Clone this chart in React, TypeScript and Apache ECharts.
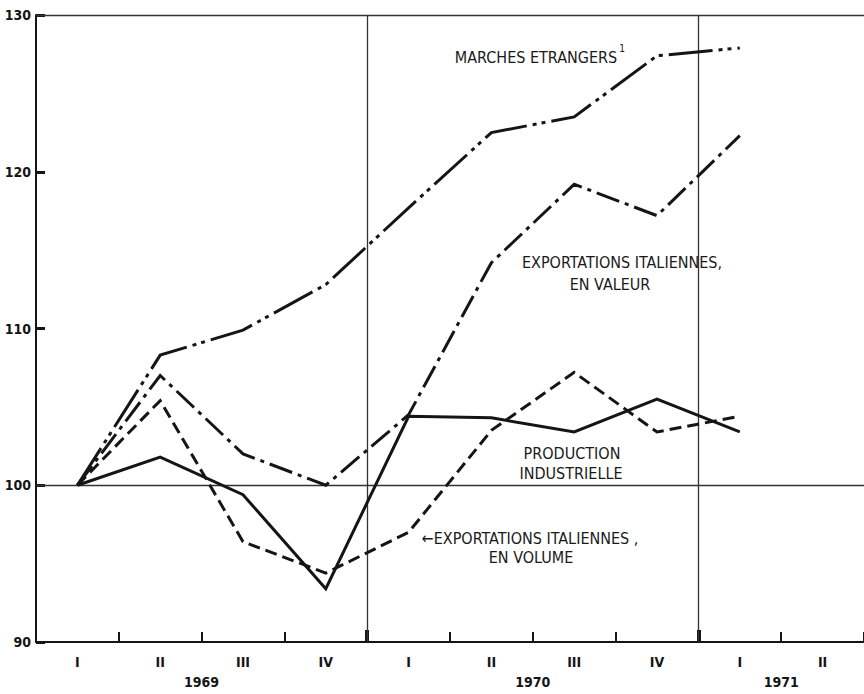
import React, { useEffect, useRef } from "react";
import * as echarts from "echarts";

const quarterLabels = ["I", "II", "III", "IV", "I", "II", "III", "IV", "I", "II"];
const yearLabels = ["1969", "1970", "1971"];
const yearLabelPositions = [2, 6, 9];
const yearBoundaries = [4, 8];

const marchesEtrangers = [100, 108.3, 109.9, 112.8, 117.7, 122.5, 123.5, 127.4, 127.9];
const exportValeur = [100, 107.0, 102.0, 100.0, 104.5, 114.2, 119.2, 117.2, 122.3];
const productionIndustrielle = [100, 101.8, 99.4, 93.4, 104.4, 104.3, 103.4, 105.5, 103.4];
const exportVolume = [100, 105.4, 96.4, 94.4, 97.0, 103.5, 107.2, 103.4, 104.4];

const yTicks = [90, 100, 110, 120, 130];

const FONT = "DejaVu Sans Condensed";
const INK = "#151515";

const toPoints = (arr: number[]) => arr.map((v, i) => [i + 0.5, v]);

export default function App() {
  const ref = useRef<HTMLDivElement>(null);
  useEffect(() => {
    if (!ref.current) return;
    const chart = echarts.init(ref.current, null, { renderer: "svg" });
    const lineSeries = (name: string, data: number[], type: any) => ({
      name,
      type: "line",
      data: toPoints(data),
      symbol: "none",
      lineStyle: { color: INK, width: 3, type, cap: "butt", join: "miter" },
      z: 5,
    });
    const ts = (text: string, x: number, y: number, size = 16) => ({
      type: "text",
      x,
      y,
      style: {
        text,
        fontFamily: FONT,
        fontSize: size,
        fill: "#1a1a1a",
        textAlign: "center",
        textVerticalAlign: "middle",
      },
      z: 10,
    });
    chart.setOption({
      animation: false,
      backgroundColor: "#fff",
      grid: { left: 36, right: 0, top: 15, bottom: 52, containLabel: false, outerBoundsMode: "none" },
      xAxis: [
        {
          type: "value",
          min: 0,
          max: 10,
          interval: 1,
          axisLine: { show: true, lineStyle: { color: INK, width: 2 } },
          axisTick: { show: true, inside: true, length: 10, lineStyle: { color: INK, width: 2 } },
          axisLabel: {
            customValues: quarterLabels.map((_, i) => i + 0.5),
            formatter: (v: number) => quarterLabels[Math.floor(v)] ?? "",
            fontFamily: FONT,
            fontWeight: "bold",
            fontSize: 14,
            color: INK,
            margin: 13,
          },
          splitLine: { show: false },
        },
        {
          type: "value",
          min: 0,
          max: 10,
          position: "bottom",
          axisLine: { show: false },
          axisTick: {
            show: true,
            inside: true,
            length: 12,
            customValues: yearBoundaries,
            lineStyle: { color: INK, width: 4 },
          },
          axisLabel: {
            customValues: yearLabelPositions,
            formatter: (v: number) => yearLabels[yearLabelPositions.indexOf(v)] ?? "",
            fontFamily: FONT,
            fontWeight: "bold",
            fontSize: 14,
            color: INK,
            margin: 33,
          },
          splitLine: { show: false },
        },
      ],
      yAxis: {
        type: "value",
        min: 90,
        max: 130,
        interval: 10,
        axisLine: { show: true, lineStyle: { color: INK, width: 2 } },
        axisTick: { show: true, inside: true, length: 9, lineStyle: { color: INK, width: 3 } },
        axisLabel: {
          customValues: yTicks,
          fontFamily: FONT,
          fontWeight: "bold",
          fontSize: 14,
          color: INK,
          margin: 5,
        },
        splitLine: { show: false },
      },
      series: [
        {
          ...lineSeries("MARCHES ETRANGERS", marchesEtrangers, [44, 6, 4, 5, 4, 6]),
          markLine: {
            silent: true,
            symbol: "none",
            label: { show: false },
            lineStyle: { color: "#333", width: 1.3, type: "solid" },
            data: [{ yAxis: 100 }, { yAxis: 130 }, { xAxis: yearBoundaries[0] }, { xAxis: yearBoundaries[1] }],
            z: 1,
          },
        },
        lineSeries("EXPORTATIONS ITALIENNES, EN VALEUR", exportValeur, [24, 6, 4, 6]),
        lineSeries("PRODUCTION INDUSTRIELLE", productionIndustrielle, "solid"),
        lineSeries("EXPORTATIONS ITALIENNES, EN VOLUME", exportVolume, [12, 6]),
      ],
      graphic: [
        ts("MARCHES ETRANGERS", 536, 57),
        ts("1", 622, 48, 10),
        ts("EXPORTATIONS ITALIENNES,", 622, 262),
        ts("EN VALEUR", 610, 284),
        ts("PRODUCTION", 572, 453),
        ts("INDUSTRIELLE", 571, 473),
        ts("←EXPORTATIONS ITALIENNES ,", 530, 538),
        ts("EN VOLUME", 531, 557),
      ],
    });
    return () => chart.dispose();
  }, []);
  return (
    <div
      ref={ref}
      style={{ position: "absolute", left: 0, top: 0, width: 864, height: 694, background: "#fff" }}
    />
  );
}
